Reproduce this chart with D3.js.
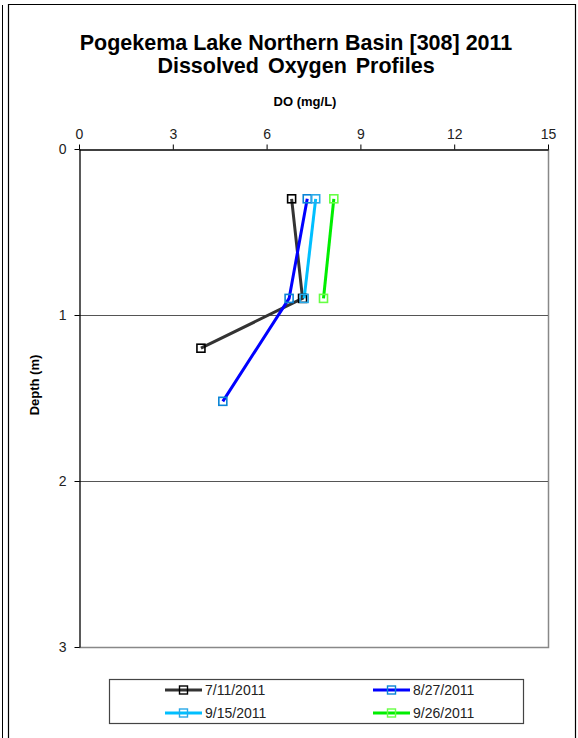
<!DOCTYPE html>
<html><head><meta charset="utf-8">
<script src="https://cdn.jsdelivr.net/npm/d3@7"></script>
<style>body{margin:0;background:#fff}svg{display:block}text{font-family:"Liberation Sans",Arial,sans-serif}</style>
</head><body>
<svg id="c" width="578" height="738"></svg>
<script>
const seriesNames = ["7/11/2011","8/27/2011","9/15/2011","9/26/2011"];
const depths711 = [0.3, 0.9, 1.2];
const do711 = [6.8, 7.15, 3.9];
const depths827 = [0.3, 0.9, 1.52];
const do827 = [7.3, 6.72, 4.6];
const depths915 = [0.3, 0.9];
const do915 = [7.57, 7.2];
const depths926 = [0.3, 0.9];
const do926 = [8.15, 7.82];
const xTicks = [0,3,6,9,12,15];
const yTicks = [0,1,2,3];
const lineColors = ["#333333","#0000ff","#00bfff","#00ee00"];
const markerColors = ["#000000","#0a84d6","#29a9e8","#66ff44"];

const series = [
  {name: seriesNames[0], d: depths711, v: do711},
  {name: seriesNames[1], d: depths827, v: do827},
  {name: seriesNames[2], d: depths915, v: do915},
  {name: seriesNames[3], d: depths926, v: do926}
];

const svg = d3.select("#c");
svg.append("line").attr("x1",2.5).attr("x2",2.5).attr("y1",5).attr("y2",738).attr("stroke","#000").attr("stroke-width",1);
svg.append("path").attr("d","M8.5,738 V4.5 H575.5 V738").attr("fill","none").attr("stroke","#000").attr("stroke-width",1.2);

svg.append("text").attr("x",296).attr("y",50).attr("text-anchor","middle").attr("font-size",21.5).attr("font-weight","bold").text("Pogekema Lake Northern Basin [308] 2011");
svg.append("text").attr("x",296).attr("y",73).attr("text-anchor","middle").attr("font-size",21.5).attr("font-weight","bold").attr("word-spacing",3).text("Dissolved Oxygen Profiles");
svg.append("text").attr("x",305).attr("y",106).attr("text-anchor","middle").attr("font-size",13).attr("font-weight","bold").text("DO (mg/L)");
svg.append("text").attr("transform","translate(39,385) rotate(-90)").attr("text-anchor","middle").attr("font-size",13).attr("font-weight","bold").text("Depth (m)");

const x = d3.scaleLinear().domain([0,15]).range([79,548]);
const y = d3.scaleLinear().domain([0,3]).range([149,647]);

svg.append("path").attr("d",`M${x(0)},${y(3)+0.5} H${x(15)+0.5} V${y(0)}`).attr("fill","none").attr("stroke","#888").attr("stroke-width",1.5);
svg.append("g").selectAll("line").data(yTicks.filter(t=>t>0&&t<3)).join("line")
  .attr("x1",x(0)).attr("x2",x(15)).attr("y1",d=>y(d)+0.5).attr("y2",d=>y(d)+0.5).attr("stroke","#555").attr("stroke-width",1);

const xAxis = svg.append("g").attr("transform",`translate(0,${y(0)+0.5})`)
  .call(d3.axisTop(x).tickValues(xTicks).tickFormat(d3.format("d")).tickSize(5).tickSizeOuter(0).tickPadding(6));
const yAxis = svg.append("g").attr("transform",`translate(${x(0)+0.5},0)`)
  .call(d3.axisLeft(y).tickValues(yTicks).tickFormat(d3.format("d")).tickSize(5).tickSizeOuter(0).tickPadding(8));
[xAxis,yAxis].forEach(a=>{
  a.select(".domain").attr("stroke","#000").attr("stroke-width",1.3);
  a.selectAll(".tick line").attr("stroke","#000");
  a.selectAll("text").attr("font-size",14).attr("fill","#222").style("font-family","'Liberation Sans',Arial,sans-serif");
});

const line = d3.line().x(p=>x(p[1])).y(p=>y(p[0]));
series.forEach((s,i)=>{
  const pts = s.d.map((d,j)=>[d, s.v[j]]);
  svg.append("path").attr("d",line(pts)).attr("fill","none").attr("stroke",lineColors[i]).attr("stroke-width",3);
});
series.forEach((s,i)=>{
  const pts = s.d.map((d,j)=>[d, s.v[j]]);
  svg.append("g").selectAll("rect").data(pts).join("rect")
    .attr("x",p=>x(p[1])-4).attr("y",p=>y(p[0])-4).attr("width",8).attr("height",8)
    .attr("fill","none").attr("stroke",markerColors[i]).attr("stroke-width",1.6);
});

svg.append("rect").attr("x",109.5).attr("y",679.5).attr("width",414).attr("height",44).attr("fill","#fff").attr("stroke","#444").attr("stroke-width",1.2);
const legPos = [[165,690],[373,690],[165,713],[373,713]];
series.forEach((s,i)=>{
  const [lx,ly] = legPos[i];
  svg.append("line").attr("x1",lx).attr("x2",lx+37).attr("y1",ly).attr("y2",ly).attr("stroke",lineColors[i]).attr("stroke-width",3);
  svg.append("rect").attr("x",lx+14.5).attr("y",ly-4).attr("width",8).attr("height",8).attr("fill","none").attr("stroke",markerColors[i]).attr("stroke-width",1.4);
  svg.append("text").attr("x",lx+40).attr("y",ly+5).attr("font-size",14).attr("fill","#222").text(s.name);
});
</script>
</body></html>
